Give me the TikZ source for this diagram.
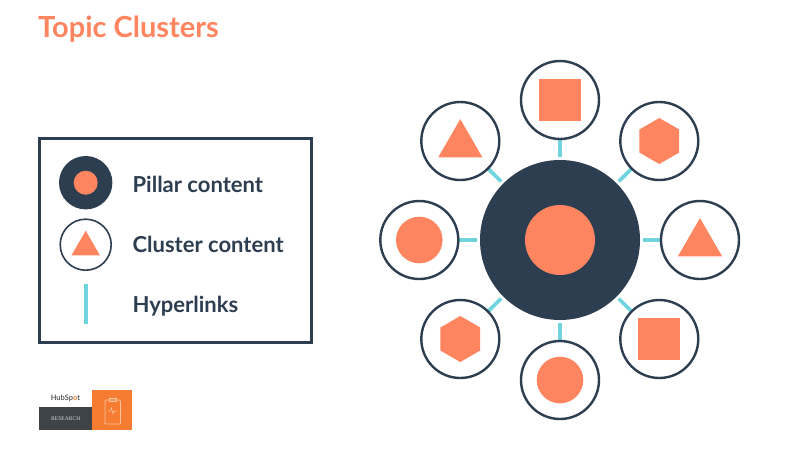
\documentclass[tikz,border=0pt]{standalone}
\usepackage{fontspec}
\setmainfont{Lato}
\newfontfamily\logoserif{Liberation Serif}
\usetikzlibrary{shapes.geometric}
\definecolor{coral}{HTML}{FF8560}
\definecolor{navy}{HTML}{2D3E50}
\definecolor{teal2}{HTML}{6FD4DE}
\definecolor{logoor}{HTML}{F57C30}
\definecolor{logodk}{HTML}{3E4347}
\tikzset{
  satellite/.style={circle,draw=navy,line width=2.4pt,fill=white,minimum size=78pt,inner sep=0,outer sep=0},
  legendsat/.style={circle,draw=navy,line width=1.6pt,fill=white,minimum size=51pt,inner sep=0,outer sep=0},
  hub/.style={circle,fill=navy,inner sep=0,outer sep=0},
  dotshape/.style={circle,fill=coral,inner sep=0,outer sep=0},
  boxshape/.style={rectangle,fill=coral,minimum size=42pt,inner sep=0,outer sep=0},
  hexshape/.style={regular polygon,regular polygon sides=6,shape border rotate=90,fill=coral,minimum size=46pt,inner sep=0,outer sep=0},
  trishape/.style={regular polygon,regular polygon sides=3,fill=coral,inner sep=0,outer sep=0},
  link/.style={draw=teal2,line width=3.6pt},
  legendtext/.style={text=navy,anchor=base west,inner sep=0,font=\bfseries\fontsize{22}{24}\selectfont},
}
\begin{document}
\begin{tikzpicture}[x=1pt,y=-1pt]
\useasboundingbox (0,0) rectangle (800,451);
\fill[white] (0,0) rectangle (800,451);
\node[anchor=base west,inner sep=0,text=coral,font=\bfseries\fontsize{29}{32}\selectfont] (title) at (38,37) {Topic Clusters};
% legend
\node[draw=navy,line width=2.6pt,minimum width=272pt,minimum height=203.5pt,inner sep=0,outer sep=0] (legend) at (175.3,240.5) {};
\node[hub,minimum size=53.4pt] (lp) at (85.7,182.7) {};
\node[dotshape,minimum size=24pt] (lpi) at (85.7,182.7) {};
\node[legendsat] (lc) at (85.7,244.7) {};
\node[trishape,minimum size=33pt] (lct) at (85.7,247.2) {};
\coordinate (lh1) at (85.7,284);
\coordinate (lh2) at (85.7,323.5);
\draw[link] (lh1) -- (lh2);
\node[legendtext] (t1) at (132.4,192.3) {Pillar content};
\node[legendtext] (t2) at (132.4,252.6) {Cluster content};
\node[legendtext] (t3) at (132.4,312.3) {Hyperlinks};
% hub
\node[hub,minimum size=160pt] (pillar) at (560,240) {};
\node[dotshape,minimum size=70pt] (pillari) at (560,240) {};
\coordinate (s1) at (560,100);
\coordinate (s2) at (659.3,141);
\coordinate (s3) at (700,240);
\coordinate (s4) at (659.3,339);
\coordinate (s5) at (560,380);
\coordinate (s6) at (460.3,339);
\coordinate (s7) at (419.3,240);
\coordinate (s8) at (460.3,141);
\foreach \i in {1,...,8} \draw[link,shorten >=3pt] (s\i) -- (pillar);
\foreach \i in {1,...,8} \node[satellite] (c\i) at (s\i) {};
\node[boxshape] (i1) at (s1) {};
\node[hexshape] (i2) at (s2) {};
\node[trishape,minimum size=51pt] (i3) at (700,243.6) {};
\node[boxshape] (i4) at (s4) {};
\node[dotshape,minimum size=46.6pt] (i5) at (s5) {};
\node[hexshape] (i6) at (s6) {};
\node[dotshape,minimum size=46.6pt] (i7) at (s7) {};
\node[trishape,minimum size=51pt] (i8) at (460.3,144.6) {};
% logo
\fill[logodk] (39.3,407) rectangle (92.3,430);
\fill[logoor] (92.3,390) rectangle (132.3,430);
\node[text=logodk!85,inner sep=0,font=\bfseries\fontsize{7.5}{8}\selectfont] (hs) at (65.5,398.5) {HubSp\textcolor{logoor}{o}t};
\node[text=white!85!black,inner sep=0,font=\logoserif\fontsize{5.6}{6}\selectfont] (res) at (65.8,418.5) {RESEARCH};
\draw[white!55!logoor,line width=.7pt,rounded corners=1pt] (105,400) rectangle (120.5,424);
\draw[white!55!logoor,line width=.7pt] (109,398.5) rectangle (116.5,401.5);
\draw[white!55!logoor,line width=.6pt] (108,411) -- (110.5,411) -- (111.5,408) -- (113,414) -- (114,411) -- (117,411);
\end{tikzpicture}
\end{document}
